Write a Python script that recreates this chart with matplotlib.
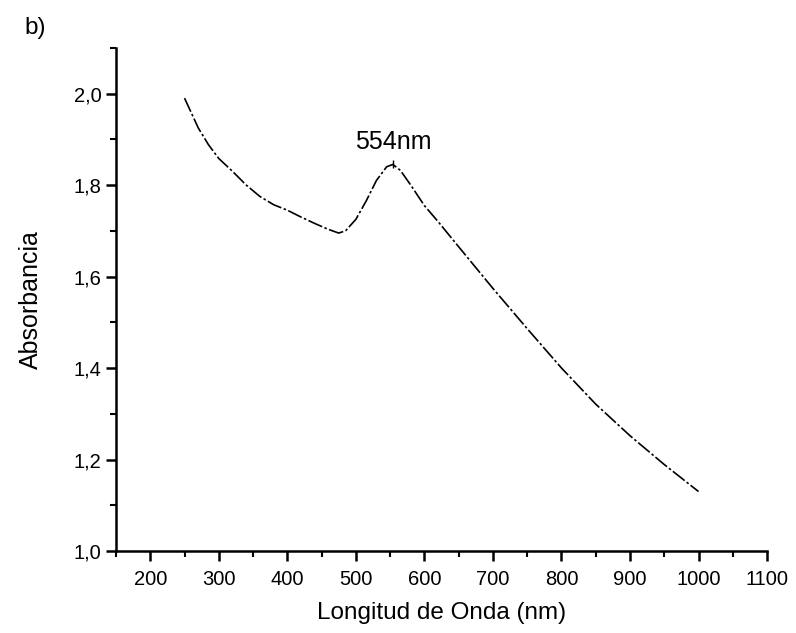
import matplotlib
matplotlib.use("Agg")
import matplotlib.pyplot as plt
from matplotlib.ticker import MultipleLocator, FuncFormatter

plt.rcParams['font.family'] = ['Liberation Sans', 'DejaVu Sans']

# absorbance spectrum
wavelength = [250, 270, 285, 300, 320, 340, 360, 380, 400, 420, 440, 460, 475, 485,
              500, 515, 530, 545, 554, 565, 580, 600, 620, 650, 700, 750, 800,
              850, 900, 950, 1000]
absorbance = [1.99, 1.925, 1.888, 1.858, 1.83, 1.80, 1.775, 1.757, 1.745, 1.73, 1.716,
              1.703, 1.695, 1.70, 1.725, 1.765, 1.81, 1.840, 1.845, 1.832, 1.800,
              1.755, 1.72, 1.665, 1.574, 1.486, 1.40, 1.321, 1.252, 1.189, 1.13]
peak_x = 554
peak_y = 1.845
peak_label = "554nm"

fig = plt.figure(figsize=(7.96, 6.33), dpi=100)
ax = fig.add_axes([0.1457, 0.1295, 0.818, 0.795])

ax.plot(wavelength, absorbance, color='black', lw=1.2,
        linestyle=(0, (9, 1.5, 1.5, 1.5)))
ax.plot([peak_x], [peak_y], marker='|', color='black', ms=6, mew=1)
ax.text(peak_x, peak_y + 0.05, peak_label, ha='center', va='center', fontsize=18)

ax.set_xlim(150, 1100)
ax.set_ylim(1.0, 2.1)
ax.xaxis.set_major_locator(MultipleLocator(100))
ax.xaxis.set_minor_locator(MultipleLocator(50))
ax.yaxis.set_major_locator(MultipleLocator(0.2))
ax.yaxis.set_minor_locator(MultipleLocator(0.1))
ax.xaxis.set_major_formatter(FuncFormatter(lambda v, p: "" if v < 200 else f"{v:.0f}"))
ax.yaxis.set_major_formatter(FuncFormatter(lambda v, p: f"{v:.1f}".replace('.', ',')))

for s in ['top', 'right']:
    ax.spines[s].set_visible(False)
for s in ['left', 'bottom']:
    ax.spines[s].set_linewidth(1.8)

ax.tick_params(which='major', direction='out', length=7, width=1.8, labelsize=14.5)
ax.tick_params(axis='x', which='major', pad=7)
ax.tick_params(which='minor', direction='out', length=4, width=1.5)

ax.set_xlabel("Longitud de Onda (nm)", fontsize=17.5, labelpad=9)
ax.set_ylabel("Absorbancia", fontsize=18, labelpad=22)

fig.text(0.044, 0.955, "b)", fontsize=17.5, ha='center', va='center')

fig.savefig("out.png", dpi=100)
